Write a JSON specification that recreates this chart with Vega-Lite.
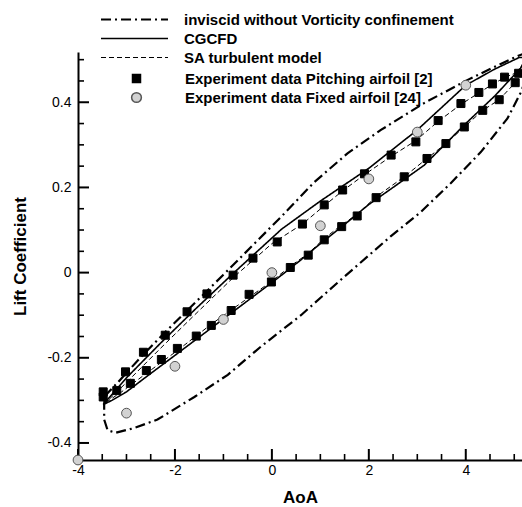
{
  "$schema": "https://vega.github.io/schema/vega-lite/v6.json",
  "width": 444,
  "height": 408,
  "autosize": {"type": "none"},
  "padding": {"left": 78, "top": 52, "right": 0, "bottom": 47},
  "background": "white",
  "config": {
    "view": {"stroke": null},
    "font": "Liberation Sans",
    "legend": {"labelFont": "Liberation Sans", "labelFontSize": 15, "labelFontWeight": "bold", "labelColor": "black", "labelLimit": 400, "padding": 0, "title": null}
  },
  "datasets": {
    "xmajor": [{"v": -4}, {"v": -2}, {"v": 0}, {"v": 2}, {"v": 4}],
    "xminor": [{"v": -3.5}, {"v": -3}, {"v": -2.5}, {"v": -1.5}, {"v": -1}, {"v": -0.5}, {"v": 0.5}, {"v": 1}, {"v": 1.5}, {"v": 2.5}, {"v": 3}, {"v": 3.5}, {"v": 4.5}, {"v": 5}],
    "ymajor": [{"v": -0.4}, {"v": -0.2}, {"v": 0}, {"v": 0.2}, {"v": 0.4}],
    "yminor": [{"v": -0.35}, {"v": -0.3}, {"v": -0.25}, {"v": -0.15}, {"v": -0.1}, {"v": -0.05}, {"v": 0.05}, {"v": 0.1}, {"v": 0.15}, {"v": 0.25}, {"v": 0.3}, {"v": 0.35}, {"v": 0.45}, {"v": 0.5}],
    "lines": [
      {"s": "inviscid without Vorticity confinement", "i": 0, "a": -3.45, "c": -0.29},
      {"s": "inviscid without Vorticity confinement", "i": 1, "a": -3.18, "c": -0.258},
      {"s": "inviscid without Vorticity confinement", "i": 2, "a": -2.7, "c": -0.198},
      {"s": "inviscid without Vorticity confinement", "i": 3, "a": -2.22, "c": -0.142},
      {"s": "inviscid without Vorticity confinement", "i": 4, "a": -1.74, "c": -0.088},
      {"s": "inviscid without Vorticity confinement", "i": 5, "a": -1.0, "c": -0.005},
      {"s": "inviscid without Vorticity confinement", "i": 6, "a": -0.3, "c": 0.075},
      {"s": "inviscid without Vorticity confinement", "i": 7, "a": 0.2, "c": 0.132},
      {"s": "inviscid without Vorticity confinement", "i": 8, "a": 0.87, "c": 0.212},
      {"s": "inviscid without Vorticity confinement", "i": 9, "a": 1.56, "c": 0.28},
      {"s": "inviscid without Vorticity confinement", "i": 10, "a": 2.25, "c": 0.335},
      {"s": "inviscid without Vorticity confinement", "i": 11, "a": 3.14, "c": 0.398},
      {"s": "inviscid without Vorticity confinement", "i": 12, "a": 4.03, "c": 0.452},
      {"s": "inviscid without Vorticity confinement", "i": 13, "a": 4.72, "c": 0.49},
      {"s": "inviscid without Vorticity confinement", "i": 14, "a": 5.1, "c": 0.51},
      {"s": "inviscid without Vorticity confinement", "i": 15, "a": 5.3, "c": 0.518},
      {"s": "inviscid without Vorticity confinement", "i": 16, "a": 5.3, "c": 0.47},
      {"s": "inviscid without Vorticity confinement", "i": 17, "a": 5.13, "c": 0.422},
      {"s": "inviscid without Vorticity confinement", "i": 18, "a": 4.86, "c": 0.362},
      {"s": "inviscid without Vorticity confinement", "i": 19, "a": 4.31, "c": 0.283},
      {"s": "inviscid without Vorticity confinement", "i": 20, "a": 3.69, "c": 0.21},
      {"s": "inviscid without Vorticity confinement", "i": 21, "a": 3.07, "c": 0.142},
      {"s": "inviscid without Vorticity confinement", "i": 22, "a": 2.45, "c": 0.085},
      {"s": "inviscid without Vorticity confinement", "i": 23, "a": 1.42, "c": -0.017},
      {"s": "inviscid without Vorticity confinement", "i": 24, "a": 0.6, "c": -0.1},
      {"s": "inviscid without Vorticity confinement", "i": 25, "a": -0.23, "c": -0.174},
      {"s": "inviscid without Vorticity confinement", "i": 26, "a": -0.91, "c": -0.24},
      {"s": "inviscid without Vorticity confinement", "i": 27, "a": -1.6, "c": -0.292},
      {"s": "inviscid without Vorticity confinement", "i": 28, "a": -2.36, "c": -0.345},
      {"s": "inviscid without Vorticity confinement", "i": 29, "a": -2.84, "c": -0.365},
      {"s": "inviscid without Vorticity confinement", "i": 30, "a": -3.22, "c": -0.376},
      {"s": "inviscid without Vorticity confinement", "i": 31, "a": -3.39, "c": -0.37},
      {"s": "inviscid without Vorticity confinement", "i": 32, "a": -3.46, "c": -0.345},
      {"s": "inviscid without Vorticity confinement", "i": 33, "a": -3.46, "c": -0.31},
      {"s": "inviscid without Vorticity confinement", "i": 34, "a": -3.45, "c": -0.29},
      {"s": "CGCFD", "i": 0, "a": -3.48, "c": -0.31},
      {"s": "CGCFD", "i": 1, "a": -3.0, "c": -0.247},
      {"s": "CGCFD", "i": 2, "a": -2.3, "c": -0.166},
      {"s": "CGCFD", "i": 3, "a": -1.6, "c": -0.088},
      {"s": "CGCFD", "i": 4, "a": -0.8, "c": -0.002},
      {"s": "CGCFD", "i": 5, "a": 0.2, "c": 0.102},
      {"s": "CGCFD", "i": 6, "a": 1.0, "c": 0.168},
      {"s": "CGCFD", "i": 7, "a": 2.0, "c": 0.245},
      {"s": "CGCFD", "i": 8, "a": 3.0, "c": 0.335},
      {"s": "CGCFD", "i": 9, "a": 4.0, "c": 0.44},
      {"s": "CGCFD", "i": 10, "a": 4.6, "c": 0.478},
      {"s": "CGCFD", "i": 11, "a": 5.1, "c": 0.505},
      {"s": "CGCFD", "i": 12, "a": 5.25, "c": 0.505},
      {"s": "CGCFD", "i": 13, "a": 5.13, "c": 0.48},
      {"s": "CGCFD", "i": 14, "a": 4.6, "c": 0.415},
      {"s": "CGCFD", "i": 15, "a": 4.0, "c": 0.35},
      {"s": "CGCFD", "i": 16, "a": 3.14, "c": 0.252},
      {"s": "CGCFD", "i": 17, "a": 2.5, "c": 0.2},
      {"s": "CGCFD", "i": 18, "a": 2.0, "c": 0.16},
      {"s": "CGCFD", "i": 19, "a": 1.5, "c": 0.113},
      {"s": "CGCFD", "i": 20, "a": 1.0, "c": 0.068},
      {"s": "CGCFD", "i": 21, "a": 0.6, "c": 0.03},
      {"s": "CGCFD", "i": 22, "a": 0.12, "c": -0.013},
      {"s": "CGCFD", "i": 23, "a": -0.57, "c": -0.072},
      {"s": "CGCFD", "i": 24, "a": -1.26, "c": -0.131},
      {"s": "CGCFD", "i": 25, "a": -1.95, "c": -0.19},
      {"s": "CGCFD", "i": 26, "a": -2.63, "c": -0.248},
      {"s": "CGCFD", "i": 27, "a": -3.0, "c": -0.28},
      {"s": "CGCFD", "i": 28, "a": -3.3, "c": -0.3},
      {"s": "CGCFD", "i": 29, "a": -3.48, "c": -0.31},
      {"s": "SA turbulent model", "i": 0, "a": -3.47, "c": -0.31},
      {"s": "SA turbulent model", "i": 1, "a": -3.0, "c": -0.258},
      {"s": "SA turbulent model", "i": 2, "a": -2.3, "c": -0.178},
      {"s": "SA turbulent model", "i": 3, "a": -1.6, "c": -0.1},
      {"s": "SA turbulent model", "i": 4, "a": -0.8, "c": -0.012},
      {"s": "SA turbulent model", "i": 5, "a": 0.0, "c": 0.068},
      {"s": "SA turbulent model", "i": 6, "a": 0.63, "c": 0.114},
      {"s": "SA turbulent model", "i": 7, "a": 1.08, "c": 0.157},
      {"s": "SA turbulent model", "i": 8, "a": 1.46, "c": 0.192},
      {"s": "SA turbulent model", "i": 9, "a": 1.91, "c": 0.23},
      {"s": "SA turbulent model", "i": 10, "a": 2.46, "c": 0.273},
      {"s": "SA turbulent model", "i": 11, "a": 2.97, "c": 0.31},
      {"s": "SA turbulent model", "i": 12, "a": 3.43, "c": 0.355},
      {"s": "SA turbulent model", "i": 13, "a": 3.9, "c": 0.395},
      {"s": "SA turbulent model", "i": 14, "a": 4.27, "c": 0.422},
      {"s": "SA turbulent model", "i": 15, "a": 4.55, "c": 0.442},
      {"s": "SA turbulent model", "i": 16, "a": 4.8, "c": 0.458},
      {"s": "SA turbulent model", "i": 17, "a": 5.1, "c": 0.472},
      {"s": "SA turbulent model", "i": 18, "a": 5.22, "c": 0.475},
      {"s": "SA turbulent model", "i": 19, "a": 5.02, "c": 0.446},
      {"s": "SA turbulent model", "i": 20, "a": 4.69, "c": 0.406},
      {"s": "SA turbulent model", "i": 21, "a": 4.35, "c": 0.381},
      {"s": "SA turbulent model", "i": 22, "a": 3.97, "c": 0.342},
      {"s": "SA turbulent model", "i": 23, "a": 3.59, "c": 0.303},
      {"s": "SA turbulent model", "i": 24, "a": 3.2, "c": 0.268},
      {"s": "SA turbulent model", "i": 25, "a": 2.73, "c": 0.225},
      {"s": "SA turbulent model", "i": 26, "a": 2.15, "c": 0.178},
      {"s": "SA turbulent model", "i": 27, "a": 1.76, "c": 0.137},
      {"s": "SA turbulent model", "i": 28, "a": 1.44, "c": 0.112},
      {"s": "SA turbulent model", "i": 29, "a": 1.08, "c": 0.08},
      {"s": "SA turbulent model", "i": 30, "a": 0.75, "c": 0.045},
      {"s": "SA turbulent model", "i": 31, "a": 0.38, "c": 0.015},
      {"s": "SA turbulent model", "i": 32, "a": 0.0, "c": -0.02},
      {"s": "SA turbulent model", "i": 33, "a": -0.57, "c": -0.066},
      {"s": "SA turbulent model", "i": 34, "a": -1.26, "c": -0.122},
      {"s": "SA turbulent model", "i": 35, "a": -1.95, "c": -0.183},
      {"s": "SA turbulent model", "i": 36, "a": -2.63, "c": -0.24},
      {"s": "SA turbulent model", "i": 37, "a": -3.1, "c": -0.28},
      {"s": "SA turbulent model", "i": 38, "a": -3.4, "c": -0.303},
      {"s": "SA turbulent model", "i": 39, "a": -3.47, "c": -0.31}
    ],
    "points": [
      {"p": "Experiment data Pitching airfoil [2]", "a": -3.48, "c": -0.28},
      {"p": "Experiment data Pitching airfoil [2]", "a": -3.48, "c": -0.292},
      {"p": "Experiment data Pitching airfoil [2]", "a": -3.2, "c": -0.277},
      {"p": "Experiment data Pitching airfoil [2]", "a": -3.02, "c": -0.233},
      {"p": "Experiment data Pitching airfoil [2]", "a": -2.92, "c": -0.26},
      {"p": "Experiment data Pitching airfoil [2]", "a": -2.65, "c": -0.187},
      {"p": "Experiment data Pitching airfoil [2]", "a": -2.59, "c": -0.23},
      {"p": "Experiment data Pitching airfoil [2]", "a": -2.28, "c": -0.204},
      {"p": "Experiment data Pitching airfoil [2]", "a": -2.2, "c": -0.147},
      {"p": "Experiment data Pitching airfoil [2]", "a": -1.95, "c": -0.178},
      {"p": "Experiment data Pitching airfoil [2]", "a": -1.75, "c": -0.092},
      {"p": "Experiment data Pitching airfoil [2]", "a": -1.56, "c": -0.149},
      {"p": "Experiment data Pitching airfoil [2]", "a": -1.34, "c": -0.05},
      {"p": "Experiment data Pitching airfoil [2]", "a": -1.25, "c": -0.124},
      {"p": "Experiment data Pitching airfoil [2]", "a": -0.84, "c": -0.089},
      {"p": "Experiment data Pitching airfoil [2]", "a": -0.8, "c": -0.006},
      {"p": "Experiment data Pitching airfoil [2]", "a": -0.47, "c": -0.051},
      {"p": "Experiment data Pitching airfoil [2]", "a": -0.39, "c": 0.034},
      {"p": "Experiment data Pitching airfoil [2]", "a": -0.01, "c": -0.022},
      {"p": "Experiment data Pitching airfoil [2]", "a": 0.11, "c": 0.072},
      {"p": "Experiment data Pitching airfoil [2]", "a": 0.38, "c": 0.012},
      {"p": "Experiment data Pitching airfoil [2]", "a": 0.63, "c": 0.114},
      {"p": "Experiment data Pitching airfoil [2]", "a": 0.75, "c": 0.041},
      {"p": "Experiment data Pitching airfoil [2]", "a": 1.08, "c": 0.159},
      {"p": "Experiment data Pitching airfoil [2]", "a": 1.08, "c": 0.077},
      {"p": "Experiment data Pitching airfoil [2]", "a": 1.44, "c": 0.108},
      {"p": "Experiment data Pitching airfoil [2]", "a": 1.46, "c": 0.194},
      {"p": "Experiment data Pitching airfoil [2]", "a": 1.76, "c": 0.133},
      {"p": "Experiment data Pitching airfoil [2]", "a": 1.91, "c": 0.232},
      {"p": "Experiment data Pitching airfoil [2]", "a": 2.15, "c": 0.176},
      {"p": "Experiment data Pitching airfoil [2]", "a": 2.46, "c": 0.276},
      {"p": "Experiment data Pitching airfoil [2]", "a": 2.73, "c": 0.225},
      {"p": "Experiment data Pitching airfoil [2]", "a": 2.97, "c": 0.307},
      {"p": "Experiment data Pitching airfoil [2]", "a": 3.2, "c": 0.268},
      {"p": "Experiment data Pitching airfoil [2]", "a": 3.43, "c": 0.357},
      {"p": "Experiment data Pitching airfoil [2]", "a": 3.59, "c": 0.303},
      {"p": "Experiment data Pitching airfoil [2]", "a": 3.9, "c": 0.397},
      {"p": "Experiment data Pitching airfoil [2]", "a": 3.97, "c": 0.342},
      {"p": "Experiment data Pitching airfoil [2]", "a": 4.27, "c": 0.423},
      {"p": "Experiment data Pitching airfoil [2]", "a": 4.35, "c": 0.381},
      {"p": "Experiment data Pitching airfoil [2]", "a": 4.55, "c": 0.443},
      {"p": "Experiment data Pitching airfoil [2]", "a": 4.69, "c": 0.406},
      {"p": "Experiment data Pitching airfoil [2]", "a": 4.8, "c": 0.459},
      {"p": "Experiment data Pitching airfoil [2]", "a": 5.02, "c": 0.446},
      {"p": "Experiment data Pitching airfoil [2]", "a": 5.09, "c": 0.468},
      {"p": "Experiment data Fixed airfoil [24]", "a": -4, "c": -0.44},
      {"p": "Experiment data Fixed airfoil [24]", "a": -3, "c": -0.33},
      {"p": "Experiment data Fixed airfoil [24]", "a": -2, "c": -0.22},
      {"p": "Experiment data Fixed airfoil [24]", "a": -1, "c": -0.11},
      {"p": "Experiment data Fixed airfoil [24]", "a": 0, "c": 0},
      {"p": "Experiment data Fixed airfoil [24]", "a": 1, "c": 0.11},
      {"p": "Experiment data Fixed airfoil [24]", "a": 2, "c": 0.22},
      {"p": "Experiment data Fixed airfoil [24]", "a": 3, "c": 0.33},
      {"p": "Experiment data Fixed airfoil [24]", "a": 4, "c": 0.44}
    ]
  },
  "layer": [
    {
      "data": {"name": "lines"},
      "mark": {"type": "line", "clip": true, "color": "black", "strokeCap": "butt"},
      "encoding": {
        "x": {"field": "a", "type": "quantitative", "title": "AoA",
          "scale": {"domain": [-4, 5.16], "nice": false, "zero": false},
          "axis": {
            "orient": "bottom", "zindex": 0,
            "values": [-4, -2, 0, 2, 4],
            "ticks": false, "domainColor": "black", "domainWidth": 2,
            "labelExpr": "(datum.value < -0.001 ? '-' : '') + format(abs(datum.value), '~g')",
            "labelFont": "Liberation Sans", "labelFontSize": 14, "labelColor": "black", "labelPadding": 3,
            "labelFlush": false, "labelOverlap": false, "grid": false,
            "titleFont": "Liberation Sans", "titleFontSize": 17, "titleFontWeight": "bold", "titleColor": "black", "titlePadding": 12
          }
        },
        "y": {"field": "c", "type": "quantitative", "title": "Lift Coefficient",
          "scale": {"domain": [-0.44, 0.518], "nice": false, "zero": false},
          "axis": {
            "orient": "left", "zindex": 0,
            "values": [-0.4, -0.2, 0, 0.2, 0.4],
            "ticks": false, "domainColor": "black", "domainWidth": 2,
            "labelExpr": "(datum.value < -0.001 ? '-' : '') + format(abs(datum.value) < 0.001 ? 0 : abs(datum.value), '~g')",
            "labelFont": "Liberation Sans", "labelFontSize": 14, "labelColor": "black", "labelPadding": 7,
            "labelFlush": false, "labelOverlap": false, "grid": false,
            "titleFont": "Liberation Sans", "titleFontSize": 17, "titleFontWeight": "bold", "titleColor": "black", "titlePadding": 17
          }
        },
        "order": {"field": "i", "type": "quantitative"},
        "detail": {"field": "s"},
        "strokeDash": {"field": "s", "type": "nominal",
          "scale": {"domain": ["inviscid without Vorticity confinement", "CGCFD", "SA turbulent model"], "range": [[10, 4, 2, 4], [1, 0], [5, 3]]},
          "legend": {"orient": "none", "legendX": 49, "legendY": -40, "symbolType": "M-6.7,0H6.7", "symbolSize": 100, "symbolStrokeColor": "black", "labelOffset": 42, "rowPadding": 3}
        },
        "strokeWidth": {"field": "s", "type": "nominal",
          "scale": {"domain": ["inviscid without Vorticity confinement", "CGCFD", "SA turbulent model"], "range": [2.2, 1, 2]},
          "legend": {"orient": "none", "legendX": 49, "legendY": -40, "symbolType": "M-6.7,0H6.7", "symbolSize": 100, "symbolStrokeColor": "black", "labelOffset": 42, "rowPadding": 3}
        }
      }
    },
    {
      "data": {"name": "xmajor"},
      "mark": {"type": "tick", "orient": "vertical", "size": 11, "thickness": 2, "color": "black", "opacity": 1, "yOffset": -5.5},
      "encoding": {
        "x": {"field": "v", "type": "quantitative", "title": "AoA"},
        "y": {"datum": -0.44, "type": "quantitative", "title": "Lift Coefficient"}
      }
    },
    {
      "data": {"name": "xminor"},
      "mark": {"type": "tick", "orient": "vertical", "size": 6, "thickness": 1.6, "color": "black", "opacity": 1, "yOffset": -3},
      "encoding": {
        "x": {"field": "v", "type": "quantitative", "title": "AoA"},
        "y": {"datum": -0.44, "type": "quantitative", "title": "Lift Coefficient"}
      }
    },
    {
      "data": {"name": "ymajor"},
      "mark": {"type": "tick", "orient": "horizontal", "size": 11, "thickness": 2, "color": "black", "opacity": 1, "xOffset": 5.5},
      "encoding": {
        "y": {"field": "v", "type": "quantitative", "title": "Lift Coefficient"},
        "x": {"datum": -4, "type": "quantitative", "title": "AoA"}
      }
    },
    {
      "data": {"name": "yminor"},
      "mark": {"type": "tick", "orient": "horizontal", "size": 6, "thickness": 1.6, "color": "black", "opacity": 1, "xOffset": 3},
      "encoding": {
        "y": {"field": "v", "type": "quantitative", "title": "Lift Coefficient"},
        "x": {"datum": -4, "type": "quantitative", "title": "AoA"}
      }
    },
    {
      "data": {"name": "points"},
      "mark": {"type": "point", "filled": true, "clip": false, "opacity": 1},
      "encoding": {
        "x": {"field": "a", "type": "quantitative", "title": "AoA"},
        "y": {"field": "c", "type": "quantitative", "title": "Lift Coefficient"},
        "shape": {"field": "p", "type": "nominal",
          "scale": {"domain": ["Experiment data Pitching airfoil [2]", "Experiment data Fixed airfoil [24]"], "range": ["square", "circle"]},
          "legend": {"orient": "none", "legendX": 51, "legendY": 19, "labelOffset": 41, "rowPadding": 2}
        },
        "fill": {"field": "p", "type": "nominal",
          "scale": {"domain": ["Experiment data Pitching airfoil [2]", "Experiment data Fixed airfoil [24]"], "range": ["black", "#d2d2d2"]},
          "legend": {"orient": "none", "legendX": 51, "legendY": 19, "labelOffset": 41, "rowPadding": 2}
        },
        "stroke": {"field": "p", "type": "nominal",
          "scale": {"domain": ["Experiment data Pitching airfoil [2]", "Experiment data Fixed airfoil [24]"], "range": ["black", "#555555"]},
          "legend": {"orient": "none", "legendX": 51, "legendY": 19, "labelOffset": 41, "rowPadding": 2}
        },
        "size": {"field": "p", "type": "nominal",
          "scale": {"domain": ["Experiment data Pitching airfoil [2]", "Experiment data Fixed airfoil [24]"], "range": [64, 95]},
          "legend": {"orient": "none", "legendX": 51, "legendY": 19, "labelOffset": 41, "rowPadding": 2}
        },
        "strokeWidth": {"value": 1}
      }
    }
  ]
}
